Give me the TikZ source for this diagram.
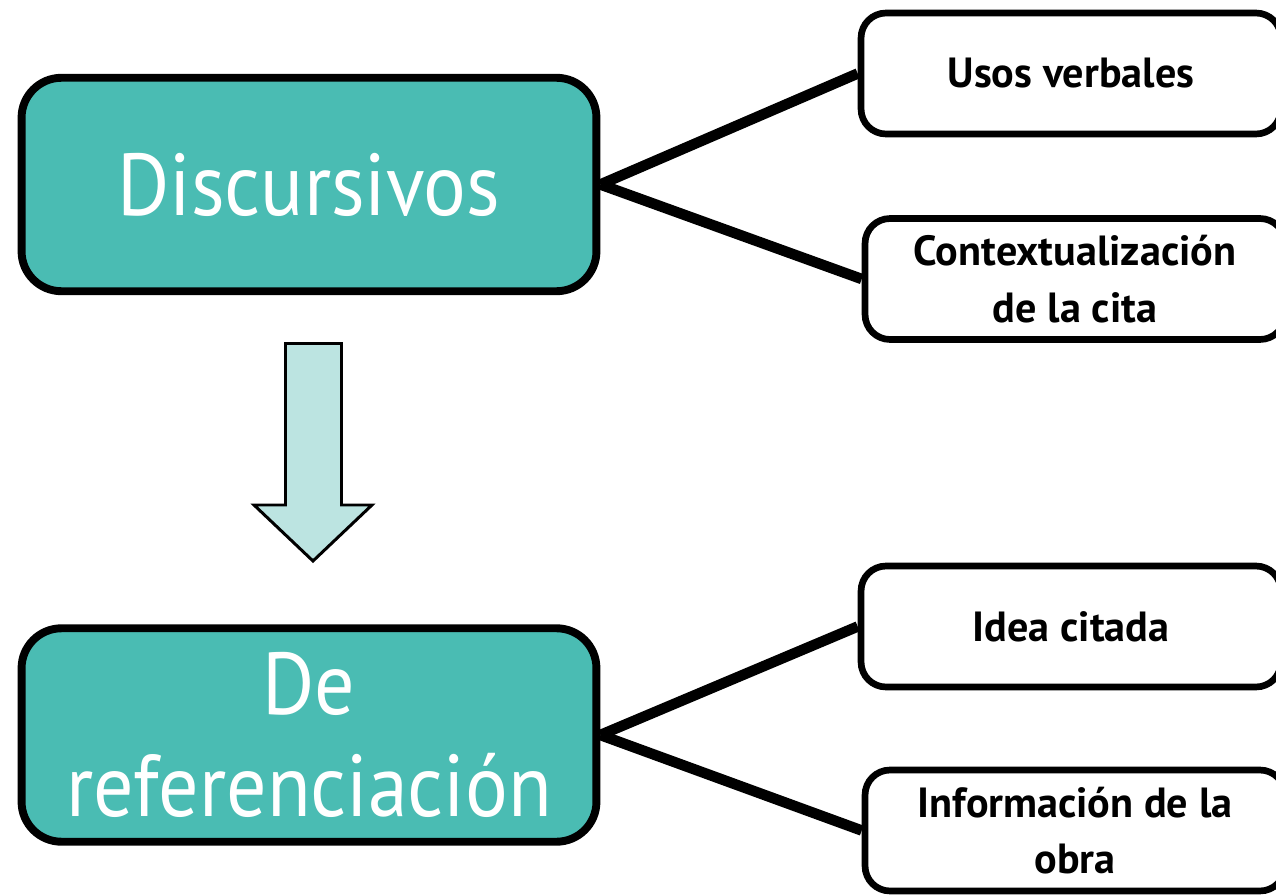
\documentclass[tikz,border=0pt]{standalone}
\usepackage{fontspec}
\setmainfont{PT Sans}
\newfontfamily\bigboxfont[FakeStretch=0.91]{PT Sans}
\newfontfamily\smallboxfont{PT Sans Bold}
\usetikzlibrary{positioning}
\definecolor{tealbox}{HTML}{4ABCB3}
\definecolor{tealpale}{HTML}{BCE4E1}

\begin{document}
\begin{tikzpicture}[
    x=0.02cm, y=-0.02cm,
    mainbox/.style={rectangle, draw=black, fill=tealbox, line width=4.5pt, rounded corners=0.8cm, minimum width=11.5cm, minimum height=4.27cm, text=white, align=center, font=\bigboxfont\fontsize{50}{58}\selectfont},
    sidebox/.style={rectangle, draw=black, fill=white, line width=3.8pt, rounded corners=0.5cm, minimum width=8.4cm, minimum height=2.42cm, align=center, font=\smallboxfont\fontsize{24}{32}\selectfont},
    link/.style={line width=6pt},
    blockarrow/.style={draw=black, fill=tealpale, line width=1.7pt}
]
    \useasboundingbox (0,0) rectangle (1276,896);

    \node[mainbox] (disc) at (309,184.5) {Discursivos};
    \node[mainbox] (refe) at (309,735) {De\\referenciación};

    \node[sidebox] (usos) at (1071,73.5) {Usos verbales};
    \node[sidebox] (ctx) at (1075,279) {Contextualización\\de la cita};
    \node[sidebox] (idea) at (1071,626.5) {Idea citada};
    \node[sidebox] (info) at (1075,830.5) {Información de la\\obra};

    \draw[link] (disc.east) -- (usos.west);
    \draw[link] (disc.east) -- (ctx.west);
    \draw[link] (refe.east) -- (idea.west);
    \draw[link] (refe.east) -- (info.west);

    % flecha entre los dos bloques
    \draw[blockarrow] (285.5,343.5) -- (341.5,343.5) -- (341.5,505) -- (372,505)
        -- (313,561) -- (254,505) -- (285.5,505) -- cycle;
\end{tikzpicture}
\end{document}
